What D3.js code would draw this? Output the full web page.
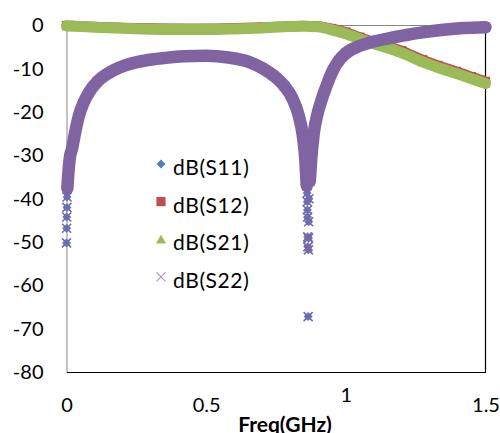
<!DOCTYPE html>
<html>
<head>
<meta charset="utf-8">
<script src="https://cdn.jsdelivr.net/npm/d3@7"></script>
<style>
body { margin: 0; background: #fff; }
svg text { font-family: Lato, "Open Sans", sans-serif; fill: #000; }
</style>
</head>
<body>
<script>
var width = 500;
var height = 433;

// tick values of the two axes
var yTicks = [0, -10, -20, -30, -40, -50, -60, -70, -80];
var xTicks = [0, 0.5, 1, 1.5];
var xTickLabels = ["0", "0.5", "1", "1.5"];
var seriesNames = ["dB(S11)", "dB(S12)", "dB(S21)", "dB(S22)"];

// reflection (S11, S22): frequency in GHz and dB values
var freqRefl = [0, 0.0005, 0.001, 0.0015, 0.002, 0.003, 0.005, 0.008, 0.012, 0.02, 0.03, 0.045, 0.06, 0.08, 0.11, 0.15, 0.21, 0.28, 0.35, 0.42, 0.5, 0.58, 0.657, 0.7, 0.74, 0.78, 0.81, 0.83, 0.845, 0.855, 0.86, 0.8615, 0.862, 0.8625, 0.863, 0.8635, 0.864, 0.865, 0.866, 0.8665, 0.867, 0.868, 0.871, 0.876, 0.885, 0.9, 0.915, 0.935, 0.954, 0.975, 1.0, 1.05, 1.1, 1.157, 1.217, 1.275, 1.35, 1.42, 1.5];
var s11 = [-50.2, -46.8, -44.2, -42.0, -39.6, -37.6, -35.5, -33, -30.5, -28.4, -25, -20.7, -18, -15.5, -13, -11, -9.2, -8.1, -7.5, -7.1, -7.0, -7.4, -8.5, -9.8, -11.5, -14, -17, -20.5, -25, -31, -37, -38.7, -40.7, -42.6, -44.2, -48.8, -51.1, -67.2, -51.8, -49.1, -45.3, -40, -36, -31, -25, -20, -16.8, -13.2, -10.3, -8.1, -6.4, -4.7, -3.7, -2.9, -2.2, -1.6, -1.0, -0.6, -0.4];
var s22 = [-50.2, -46.8, -44.2, -42.0, -39.6, -37.6, -35.5, -33, -30.5, -28.4, -25, -20.7, -18, -15.5, -13, -11, -9.2, -8.1, -7.5, -7.1, -7.0, -7.4, -8.5, -9.8, -11.5, -14, -17, -20.5, -25, -31, -37, -38.7, -40.7, -42.6, -44.2, -48.8, -51.1, -67.2, -51.8, -49.1, -45.3, -40, -36, -31, -25, -20, -16.8, -13.2, -10.3, -8.1, -6.4, -4.7, -3.7, -2.9, -2.2, -1.6, -1.0, -0.6, -0.4];

// transmission (S12, S21)
var freqTrans = [0, 0.05, 0.1, 0.2, 0.3, 0.4, 0.5, 0.6, 0.7, 0.8, 0.85, 0.9, 0.95, 1.0, 1.05, 1.1, 1.157, 1.2, 1.275, 1.33, 1.396, 1.45, 1.5];
var s12 = [0, -0.15, -0.3, -0.5, -0.65, -0.7, -0.7, -0.6, -0.4, -0.15, -0.05, -0.15, -0.7, -1.5, -2.7, -3.8, -4.9, -5.8, -7.9, -9.2, -10.6, -11.8, -12.9];
var s21 = [-0.1, -0.25, -0.4, -0.65, -0.85, -0.95, -0.95, -0.8, -0.55, -0.25, -0.15, -0.3, -1.0, -1.9, -3.1, -4.2, -5.3, -6.3, -8.4, -9.7, -11.1, -12.3, -13.4];

var colors = ["#4F81BD", "#C0504D", "#9BBB59", "#8064A2"];

var svg = d3.select("body").append("svg")
    .attr("width", width)
    .attr("height", height);

var x = d3.scaleLinear().domain([0, 1.5]).range([66.5, 485.5]);
var y = d3.scaleLinear().domain([-80, 0]).range([372, 25.5]);

// marker shapes (Excel style)
function markerPath(kind) {
    if (kind == 0) return "M0,-4.5L4.5,0L0,4.5L-4.5,0Z";
    if (kind == 1) return "M-4.6,-4.6H4.6V4.6H-4.6Z";
    if (kind == 2) return "M0,-4.5L5,4.3H-5Z";
    return "M-4.5,-4.5L4.5,4.5M-4.5,4.5L4.5,-4.5";
}

// frame: gray axis on the left and at 0 dB, black at bottom and right
svg.append("line")
    .attr("x1", x(0)).attr("x2", x(1.5))
    .attr("y1", y(0)).attr("y2", y(0))
    .attr("stroke", "#868686").attr("stroke-width", 1);
svg.append("line")
    .attr("x1", x(1.5)).attr("x2", x(1.5))
    .attr("y1", y(0)).attr("y2", y(-80))
    .attr("stroke", "#000").attr("stroke-width", 1.2);

var yAxis = svg.append("g")
    .attr("transform", "translate(" + x(0) + ",0)")
    .call(d3.axisLeft(y).tickValues(yTicks).tickSize(0).tickPadding(23)
        .tickFormat(function (d) { return String(d); }));
yAxis.select(".domain").attr("stroke", "#868686");
yAxis.selectAll("text").style("font-size", "20px").attr("font-family", null);

var xAxis = svg.append("g")
    .attr("transform", "translate(0," + y(-80) + ")")
    .call(d3.axisBottom(x).tickValues(xTicks).tickSize(0).tickPadding(26)
        .tickFormat(function (d, i) { return xTickLabels[i]; }));
xAxis.select(".domain").attr("stroke", "#000").attr("stroke-width", 1.2);
xAxis.selectAll("text").style("font-size", "20px").attr("font-family", null);
// the "1" label sits higher than the others in the original
xAxis.selectAll(".tick").filter(function (d) { return d == 1; })
    .select("text").attr("y", 16);

svg.append("text")
    .attr("x", 285).attr("y", 432)
    .attr("text-anchor", "middle")
    .style("font-size", "21px").style("font-weight", "bold")
    .text("Freq(GHz)");

// series
var series = [
    {freq: freqRefl, vals: s11, band: 10},
    {freq: freqTrans, vals: s12, band: 10},
    {freq: freqTrans, vals: s21, band: 11},
    {freq: freqRefl, vals: s22, band: 12.5}
];

var band = d3.line()
    .defined(function (d) { return d[1] > -38; })
    .x(function (d) { return x(d[0]); })
    .y(function (d) { return y(d[1]); })
    .curve(d3.curveMonotoneX);

series.forEach(function (s, k) {
    var pts = s.freq.map(function (f, i) { return [f, s.vals[i]]; });
    var g = svg.append("g").attr("class", "series_" + k);
    g.append("path")
        .attr("d", band(pts))
        .attr("fill", "none")
        .attr("stroke", colors[k])
        .attr("stroke-width", s.band)
        .attr("stroke-linecap", "round")
        .attr("stroke-linejoin", "round");
    g.selectAll("path.m")
        .data(pts)
        .enter().append("path")
        .attr("class", "m")
        .attr("transform", function (d) { return "translate(" + x(d[0]) + "," + y(d[1]) + ")"; })
        .attr("d", markerPath(k))
        .attr("fill", k == 3 ? "none" : colors[k])
        .attr("stroke", k == 3 ? colors[k] : "none")
        .attr("stroke-width", 1.6);
});

// legend
var legend = svg.append("g").attr("class", "legend");
seriesNames.forEach(function (name, k) {
    var ly = 164 + k * 37.6;
    legend.append("path")
        .attr("transform", "translate(161," + ly + ")")
        .attr("d", markerPath(k))
        .attr("fill", k == 3 ? "none" : colors[k])
        .attr("stroke", k == 3 ? "#A897C6" : "none")
        .attr("stroke-width", 1.2);
    legend.append("text")
        .attr("x", 173).attr("y", ly + 11)
        .style("font-size", "21px")
        .style("letter-spacing", "0.6px")
        .text(name);
});
</script>
</body>
</html>
